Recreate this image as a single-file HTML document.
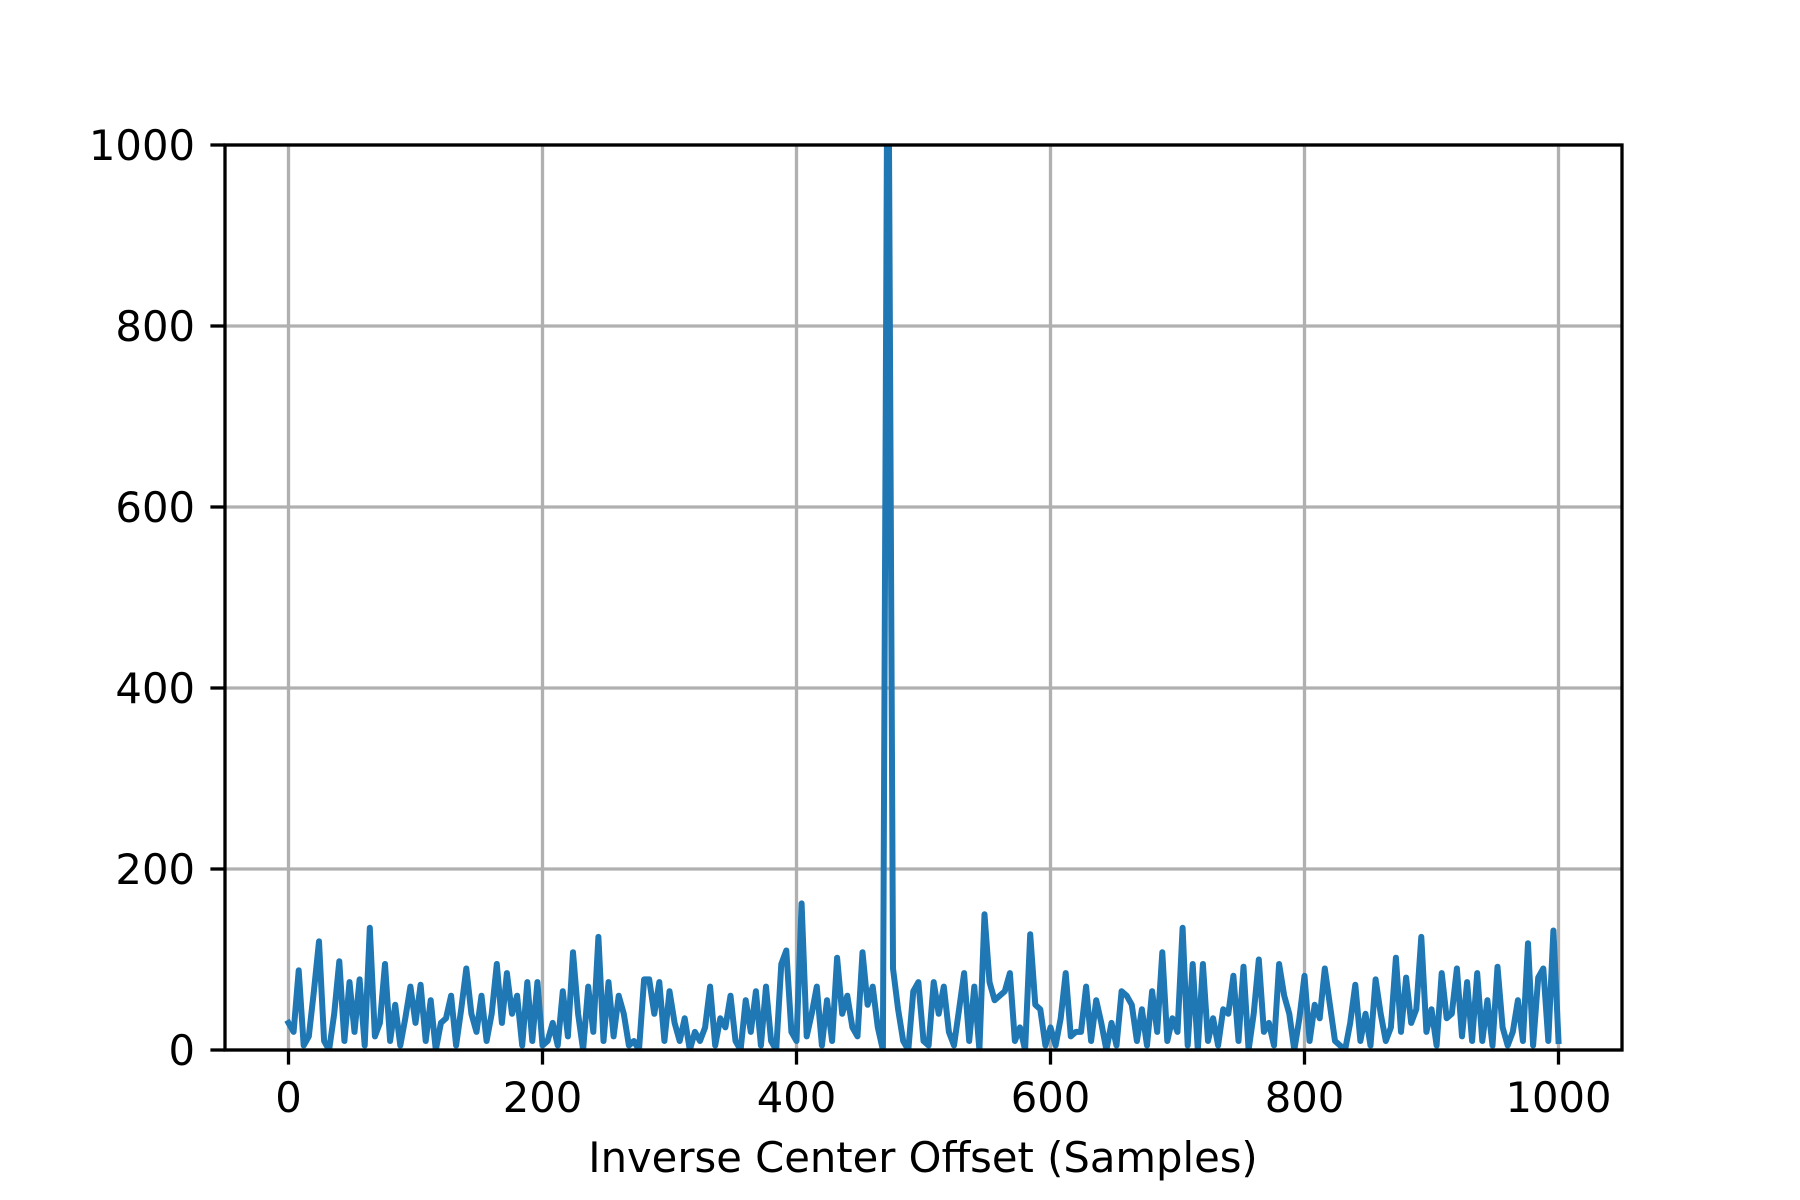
<!DOCTYPE html>
<html><head><meta charset="utf-8">
<style>
html,body{margin:0;padding:0;background:#fff;}
svg{display:block;}
text{font-family:"DejaVu Sans","Liberation Sans",sans-serif;font-size:41.7px;fill:#000;}
</style></head>
<body>
<svg id="chart" width="1800" height="1200" viewBox="0 0 1800 1200">
<defs><clipPath id="clip"><rect x="225" y="145" width="1397" height="905"/></clipPath></defs>
<g id="grid"></g>
<g id="series" clip-path="url(#clip)"></g>
<g id="axes"></g>
<text x="923" y="1172" text-anchor="middle">Inverse Center Offset (Samples)</text>
</svg>
<script>
const xStep = 4;
const magnitudes = [
30,20,88,5,15,65,120,10,0,40,
98,10,75,20,78,5,135,15,30,95,
10,50,5,35,70,30,72,10,55,0,
30,35,60,5,45,90,40,20,60,10,
40,95,30,85,40,60,5,75,10,75,
5,10,30,5,65,15,108,40,0,70,
20,125,10,75,15,60,40,5,10,0,
78,78,40,75,10,65,30,10,35,0,
20,10,25,70,5,35,25,60,10,0,
55,20,65,5,70,10,0,95,110,20,
10,162,15,40,70,5,55,10,102,40,
60,25,15,108,50,70,25,0,1250,90,
45,10,0,65,75,10,5,75,40,70,
20,5,45,85,10,70,0,150,75,55,
60,65,85,10,25,0,128,50,45,5,
25,5,35,85,15,20,20,70,10,55,
30,0,30,5,65,60,50,10,45,5,
65,20,108,10,35,20,135,5,95,0,
95,10,35,5,45,40,82,10,92,0,
40,100,20,30,5,95,60,40,0,35,
82,10,50,35,90,50,10,5,0,30,
72,10,40,5,78,40,10,25,102,20,
80,30,45,125,20,45,5,85,35,40,
90,15,75,10,85,10,55,5,92,25,
5,20,55,10,118,5,80,90,10,132,
10];
const xTicks = [0,200,400,600,800,1000];
const yTicks = [0,200,400,600,800,1000];

const L=225,R=1622,T=145,B=1050;
const xMin=-50,xMax=1050,yMin=0,yMax=1000;
function sx(v){return L+(v-xMin)/(xMax-xMin)*(R-L);}
function sy(v){return B-(v-yMin)/(yMax-yMin)*(B-T);}
const NS="http://www.w3.org/2000/svg";
function mk(tag,attrs,parent){const e=document.createElementNS(NS,tag);for(const k in attrs)e.setAttribute(k,attrs[k]);parent.appendChild(e);return e;}
const grid=document.getElementById('grid'),axes=document.getElementById('axes'),series=document.getElementById('series');

xTicks.forEach(t=>{
  const g=mk('line',{x1:sx(t),x2:sx(t),y1:T,y2:B,stroke:'#b0b0b0','stroke-width':3.3},grid);
  
  
  const tk=mk('line',{x1:sx(t),x2:sx(t),y1:B,y2:B+14.6,stroke:'#000','stroke-width':3.3},axes);
  
  
  const tx=mk('text',{x:sx(t),y:1112,'text-anchor':'middle'},axes);
  tx.textContent=t;
  
  
});
yTicks.forEach(t=>{
  const g=mk('line',{x1:L,x2:R,y1:sy(t),y2:sy(t),stroke:'#b0b0b0','stroke-width':3.3},grid);
  
  
  const tk=mk('line',{x1:L-14.6,x2:L,y1:sy(t),y2:sy(t),stroke:'#000','stroke-width':3.3},axes);
  
  
  const tx=mk('text',{x:195,y:sy(t)+15,'text-anchor':'end'},axes);
  tx.textContent=t;
  
  
});

const pts=magnitudes.map((v,i)=>sx(i*xStep).toFixed(1)+','+sy(v).toFixed(1)).join(' ');
const line=mk('polyline',{points:pts,fill:'none',stroke:'#1f77b4','stroke-width':6,'stroke-linejoin':'round','stroke-linecap':'square'},series);



const frame=mk('rect',{x:L,y:T,width:R-L,height:B-T,fill:'none',stroke:'#000','stroke-width':3.3},axes);


</script>
</body></html>
